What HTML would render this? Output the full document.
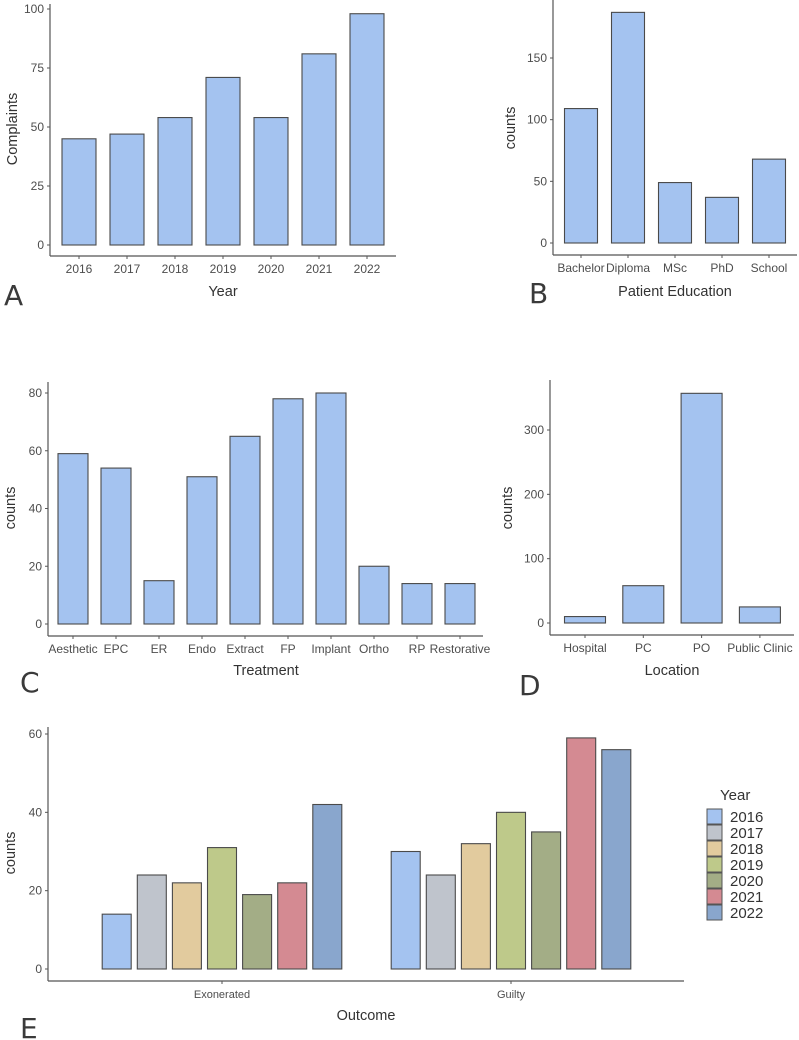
<!DOCTYPE html>
<html><head><meta charset="utf-8"><style>
body{margin:0;background:#fff}
svg{display:block;font-family:"Liberation Sans",sans-serif}
.tk{font-size:12px;fill:#4d4d4d}
.tt{font-size:14.5px;fill:#333}
.lt{font-size:28px;fill:#3a3a3a;font-family:"DejaVu Sans",sans-serif}
</style></head><body>
<svg id="fig" width="799" height="1040" viewBox="0 0 799 1040"></svg>
<script>
const yearCats = ["2016","2017","2018","2019","2020","2021","2022"];
const yearComplaints = [45,47,54,71,54,81,98];
const yearTicks = [0,25,50,75,100];
const eduCats = ["Bachelor","Diploma","MSc","PhD","School"];
const eduCounts = [109,187,49,37,68];
const eduTicks = [0,50,100,150];
const treatCats = ["Aesthetic","EPC","ER","Endo","Extract","FP","Implant","Ortho","RP","Restorative"];
const treatCounts = [59,54,15,51,65,78,80,20,14,14];
const treatTicks = [0,20,40,60,80];
const locCats = ["Hospital","PC","PO","Public Clinic"];
const locCounts = [10,58,357,25];
const locTicks = [0,100,200,300];
const outCats = ["Exonerated","Guilty"];
const outYears = ["2016","2017","2018","2019","2020","2021","2022"];
const outExonerated = [14,24,22,31,19,22,42];
const outGuilty = [30,24,32,40,35,59,56];
const outTicks = [0,20,40,60];
const yearColors = ["#a4c3f0","#bfc4cc","#e2cb9e","#bec98a","#a3ad86","#d48a92","#89a6cd"];

const NS="http://www.w3.org/2000/svg";
const svg=document.getElementById('fig');
function mk(tag,attrs,parent,txt){const e=document.createElementNS(NS,tag);for(const k in attrs)e.setAttribute(k,attrs[k]);if(txt!==undefined)e.textContent=txt;(parent||svg).appendChild(e);return e;}

function panel(o){
  const g=mk('g',{});
  
  
  const ys=v=>o.y0-(v/o.ymax)*(o.y0-o.ymaxPx);
  // axes
  const ya=mk('line',{x1:o.ax,y1:o.top,x2:o.ax,y2:o.xa,stroke:'#555','stroke-width':1.2},g);
  
  
  const xa=mk('line',{x1:o.ax,y1:o.xa,x2:o.right,y2:o.xa,stroke:'#555','stroke-width':1.2},g);
  
  
  o.ticks.forEach(t=>{
    const y=ys(t);
    mk('line',{x1:o.ax-3,y1:y,x2:o.ax,y2:y,stroke:'#555'},g);
    const tl=mk('text',{x:o.ax-6,y:y+4,'text-anchor':'end',class:'tk'},g,t);
    
    
  });
  o.cats.forEach((c,i)=>{
    const cx=o.x0+i*o.step;
    mk('line',{x1:cx,y1:o.xa,x2:cx,y2:o.xa+3,stroke:'#555'},g);
    const tl=mk('text',{x:cx,y:o.xa+17,'text-anchor':'middle',class:'tk',style:o.tkStyle||''},g,c);
    
    
  });
  o.series.forEach((s,si)=>{
    s.vals.forEach((v,i)=>{
      const cx=o.x0+i*o.step+(s.off||0);
      const r=mk('rect',{x:cx-o.bw/2,y:ys(v),width:o.bw,height:ys(0)-ys(v),fill:s.color,stroke:'#4a4a4a','stroke-width':1.1},g);
      
      
    });
  });
  const xt=mk('text',{x:o.xtx,y:o.xty,'text-anchor':'middle',class:'tt'},g,o.xtitle);
  
  
  const yt=mk('text',{x:0,y:0,'text-anchor':'middle',class:'tt',transform:`translate(${o.ytx},${o.yty}) rotate(-90)`},g,o.ytitle);
  
  
  const lt=mk('text',{x:o.lx,y:o.ly,class:'lt'},g,o.letter);
  
  
}

panel({name:'panel-a-complaints',ax:50,top:4,xa:256,right:396,y0:245,ymax:100,ymaxPx:9,ticks:yearTicks,
  cats:yearCats,x0:79,step:48,bw:34,series:[{vals:yearComplaints,color:'#a4c3f0'}],
  xtitle:'Year',xtx:223,xty:296,ytitle:'Complaints',ytx:17,yty:129,letter:'A',lx:4,ly:305});
panel({name:'panel-b-education',ax:553,top:0,xa:255,right:797,y0:243,ymax:150,ymaxPx:58,ticks:eduTicks,
  cats:eduCats,x0:581,step:47,bw:33,series:[{vals:eduCounts,color:'#a4c3f0'}],
  xtitle:'Patient Education',xtx:675,xty:296,ytitle:'counts',ytx:515,yty:128,letter:'B',lx:529,ly:303});
panel({name:'panel-c-treatment',ax:48,top:382,xa:636,right:483,y0:624,ymax:80,ymaxPx:393,ticks:treatTicks,
  cats:treatCats,x0:73,step:43,bw:30,series:[{vals:treatCounts,color:'#a4c3f0'}],
  xtitle:'Treatment',xtx:266,xty:675,ytitle:'counts',ytx:15,yty:508,letter:'C',lx:20,ly:692});
panel({name:'panel-d-location',ax:550,top:380,xa:635,right:794,y0:623,ymax:300,ymaxPx:430,ticks:locTicks,
  cats:locCats,x0:585,step:58.3,bw:41,series:[{vals:locCounts,color:'#a4c3f0'}],
  xtitle:'Location',xtx:672,xty:675,ytitle:'counts',ytx:512,yty:508,letter:'D',lx:519,ly:695});

const exSeries = outYears.map((y,i)=>({label:y,vals:[outExonerated[i],outGuilty[i]],color:yearColors[i],off:(i-3)*35.1}));
panel({name:'panel-e-outcome',ax:48,top:727,xa:981,right:684,y0:969,ymax:60,ymaxPx:734,ticks:outTicks,
  cats:outCats,x0:222,step:289,bw:29,series:exSeries,tkStyle:'font-size:11px',
  xtitle:'Outcome',xtx:366,xty:1020,ytitle:'counts',ytx:15,yty:853,letter:'E',lx:20,ly:1038});

// legend
const lg=mk('g',{});


const lgt=mk('text',{x:720,y:800,class:'tt',style:'font-size:15px'},lg,'Year');


outYears.forEach((y,i)=>{
  const e=mk('g',{},lg);
  
  
  mk('rect',{x:707,y:809+i*16,width:15,height:15,fill:yearColors[i],stroke:'#555','stroke-width':1},e);
  mk('text',{x:730,y:822+i*16,class:'tt',style:'font-size:15px'},e,y);
});
</script>
</body></html>
